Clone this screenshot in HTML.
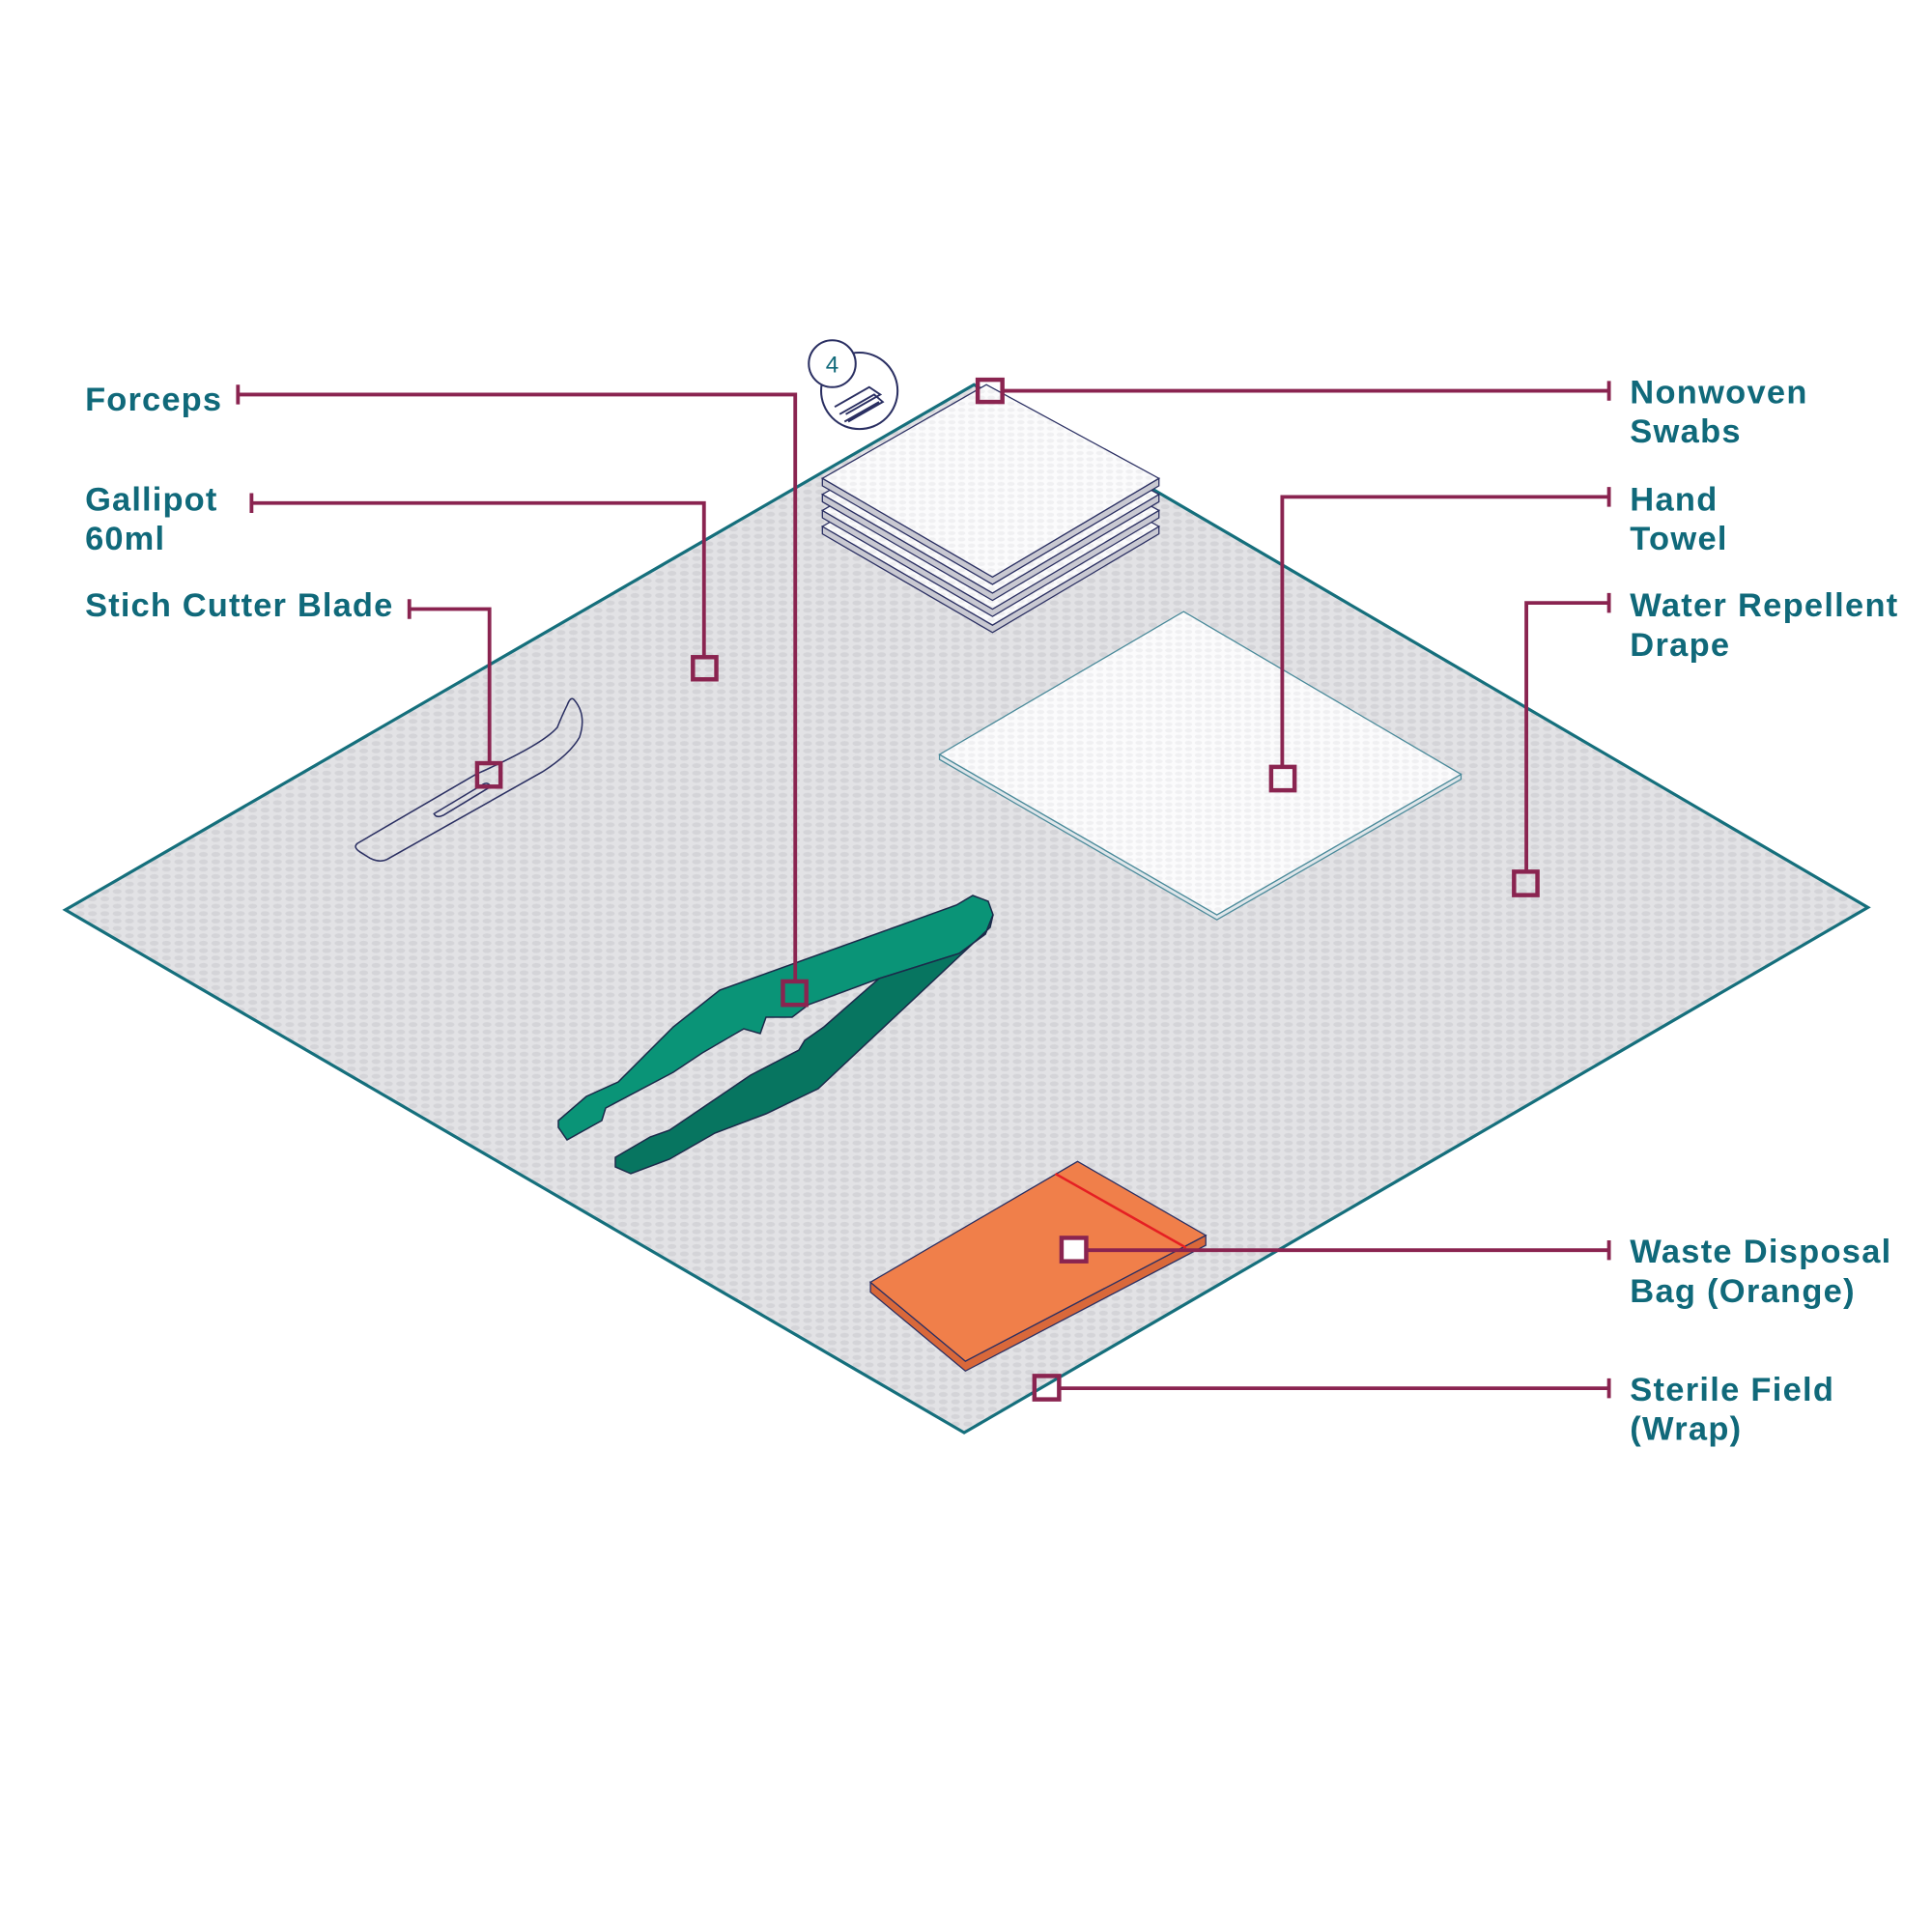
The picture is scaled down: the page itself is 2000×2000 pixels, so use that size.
<!DOCTYPE html>
<html><head><meta charset="utf-8"><style>
html,body{margin:0;padding:0;background:#fff;width:2000px;height:2000px;overflow:hidden}
svg{display:block}
.l{font-family:"Liberation Sans",sans-serif;font-weight:bold;fill:#10697a;font-size:27px;letter-spacing:0.9px}
.r{font-family:"Liberation Sans",sans-serif;font-weight:bold;fill:#10697a;font-size:27px;letter-spacing:1px}
.c{stroke:#8a2450;stroke-width:3;fill:none}
.b{stroke:#8a2450;stroke-width:3.5;fill:none}
</style></head><body>
<svg width="2000" height="2000" viewBox="0 0 1567 1567" xmlns="http://www.w3.org/2000/svg">
<defs>
<pattern id="dots" width="10" height="6" patternUnits="userSpaceOnUse">
<rect width="10" height="6" fill="#e2e2e5"/>
<ellipse cx="5" cy="3" rx="3.6" ry="2" fill="#d4d4d8"/>
</pattern>
<pattern id="wdots" width="8" height="5" patternUnits="userSpaceOnUse">
<rect width="8" height="5" fill="#fbfbfc"/>
<ellipse cx="4" cy="2.5" rx="3" ry="1.6" fill="#f0f0f2"/>
</pattern>
</defs>
<polygon points="790,312 1515,736 782,1162 53,738" fill="url(#dots)" stroke="#156f7c" stroke-width="2.5"/>
<circle cx="697" cy="317" r="31" fill="#fff" stroke="#2a2f62" stroke-width="1.6"/>
<path d="M677,330 L705,314 L714,320 L686,336 M681,336 L709,320 L716,326 L688,342 M685,342 L713,326" stroke="#2a2f62" stroke-width="1.5" fill="none"/>
<circle cx="675" cy="295" r="19" fill="#fff" stroke="#2a2f62" stroke-width="1.6"/>
<text x="675" y="302" font-family="Liberation Sans,sans-serif" font-size="19" fill="#10697a" text-anchor="middle">4</text>
<g stroke="#2a2f62" stroke-width="1">
<polygon points="667,427 667,433 805,513 940,433 940,427 805,507" fill="#c9c9d2"/>
<polygon points="800,351 940,427 805,507 667,427" fill="url(#wdots)"/>
<polygon points="667,414 667,420 805,500 940,420 940,414 805,494" fill="#c9c9d2"/>
<polygon points="800,338 940,414 805,494 667,414" fill="url(#wdots)"/>
<polygon points="667,401 667,407 805,487 940,407 940,401 805,481" fill="#c9c9d2"/>
<polygon points="800,325 940,401 805,481 667,401" fill="url(#wdots)"/>
<polygon points="667,388 667,394 805,474 940,394 940,388 805,468" fill="#c9c9d2"/>
<polygon points="800,312 940,388 805,468 667,388" fill="url(#wdots)"/>
</g>
<polygon points="762,612 762,616 987,746 1185,632 1185,628 987,742" fill="#dfe6ea" stroke="#4a8a9a" stroke-width="1"/>
<polygon points="960,496 1185,628 987,742 762,612" fill="url(#wdots)" stroke="#4a8a9a" stroke-width="1"/>
<path d="M290,684 L386,628 Q440,604 452,590 Q456,580 460,572 Q463,564 466,568 Q476,580 470,598 Q462,612 440,626 L314,697 Q308,700 300,696 L292,691 Q286,687 290,684 Z M352,660 L392,636 Q396,634 398,638 L360,661 Q354,664 352,660 Z" fill="none" stroke="#2a2f62" stroke-width="1.2"/>
<polygon points="706,1040 706,1048 783,1112 978,1010 978,1002 783,1104" fill="#d9683a" stroke="#2a2f62" stroke-width="1"/>
<polygon points="874,942 978,1002 783,1104 706,1040" fill="#f07f4a" stroke="#2a2f62" stroke-width="1"/>
<line x1="856" y1="952" x2="962" y2="1012" stroke="#e51f23" stroke-width="2"/>
<g transform="scale(0.7835)" stroke="#1b2a4a" stroke-width="1.5">
<path d="M578,1160 L607,1135 L640,1120 L697,1063 L745,1025 L990,937 L1007,927 L1023,933 L1028,947 L1020,967 L993,987 L910,1013 L837,1040 L820,1053 L793,1053 L787,1070 L770,1065 L727,1090 L697,1110 L627,1147 L623,1160 L587,1180 L578,1167 Z" fill="#0a9477"/>
<path d="M993,987 L1020,967 L1028,947 L1025,960 L847,1127 L793,1153 L740,1173 L693,1200 L653,1215 L637,1208 L637,1198 L673,1177 L693,1170 L777,1113 L827,1087 L833,1077 L853,1063 L910,1013 Z" fill="#077560"/>
</g>
<path class="c" d="M193,320 H645 V796 M193,312 V328"/>
<rect class="b" x="635" y="796" width="19" height="19"/>
<path class="c" d="M204,408 H571 V533 M204,400 V416"/>
<rect class="b" x="562" y="533" width="19" height="18"/>
<path class="c" d="M332,494 H397 V619 M332,486 V502"/>
<rect class="b" x="387" y="619" width="19" height="19"/>
<path class="c" d="M813,317 H1305 M1305,309 V325"/>
<rect class="b" x="793" y="308" width="20" height="18"/>
<path class="c" d="M1305,403 H1040 V622 M1305,395 V411"/>
<rect class="b" x="1031" y="622" width="19" height="19"/>
<path class="c" d="M1305,489 H1238 V707 M1305,481 V497"/>
<rect class="b" x="1228" y="707" width="19" height="19"/>
<path class="c" d="M881,1014 H1305 M1305,1006 V1022"/>
<rect class="b" x="861" y="1004" width="20" height="19" style="fill:#fff"/>
<path class="c" d="M859,1126 H1305 M1305,1118 V1134"/>
<rect class="b" x="839" y="1116" width="20" height="19"/>
<text class="l" x="69" y="333">Forceps</text>
<text class="l" x="69" y="414">Gallipot</text>
<text class="l" x="69" y="446">60ml</text>
<text class="l" x="69" y="500">Stich Cutter Blade</text>
<text class="r" x="1322" y="327">Nonwoven</text>
<text class="r" x="1322" y="359">Swabs</text>
<text class="r" x="1322" y="414">Hand</text>
<text class="r" x="1322" y="446">Towel</text>
<text class="r" x="1322" y="500">Water Repellent</text>
<text class="r" x="1322" y="532">Drape</text>
<text class="r" x="1322" y="1024">Waste Disposal</text>
<text class="r" x="1322" y="1056">Bag (Orange)</text>
<text class="r" x="1322" y="1136">Sterile Field</text>
<text class="r" x="1322" y="1168">(Wrap)</text>
</svg>
</body></html>
